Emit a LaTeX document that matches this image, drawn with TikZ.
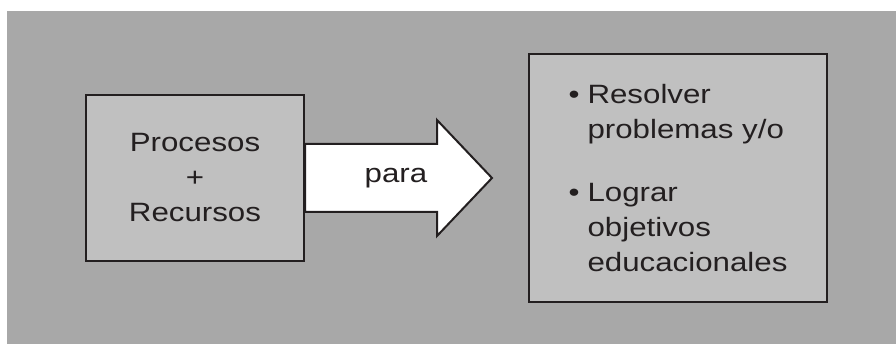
\documentclass[tikz,border=0pt]{standalone}
\usepackage{fontspec}
\setmainfont{Liberation Sans}[FakeStretch=1.18]
\usetikzlibrary{positioning}

\definecolor{fondo}{HTML}{A8A8A8}
\definecolor{relleno}{HTML}{C0C0C0}
\definecolor{borde}{HTML}{231F20}

\begin{document}
\begin{tikzpicture}[x=1pt, y=1pt,
		caja/.style={draw=borde, line width=2pt, fill=relleno, align=left,
			font=\fontsize{26.5}{35}\selectfont, text=borde},
		flecha/.style={draw=borde, line width=2pt, fill=white, line join=miter}]
		\useasboundingbox (0,0) rectangle (896,344);
		\fill[fondo] (7,0) rectangle (896,333);

		\node [caja, align=center, minimum width=218pt, minimum height=166pt] (procesos) at (195,166) {Procesos\\+\\Recursos};
		\node [caja, minimum width=298pt, minimum height=248pt, right=223pt of procesos] (metas)
			{\makebox[19pt][l]{•}Resolver\\\hspace*{19pt}problemas y/o\\[28pt]
			 \makebox[19pt][l]{•}Lograr\\\hspace*{19pt}objetivos\\\hspace*{19pt}educacionales};
		\coordinate [left=36pt of metas.west] (punta);

		\path[flecha] ([yshift=34pt]procesos.east) -- ++(132,0) -- ++(0,24) -- (punta)
			-- ++(-55,-58) -- ++(0,24) -- ([yshift=-34pt]procesos.east) -- cycle;
		\node [font=\fontsize{26.5}{35}\selectfont, text=borde] (para) at ([xshift=91pt]procesos.east) {para};
	\end{tikzpicture}
\end{document}
